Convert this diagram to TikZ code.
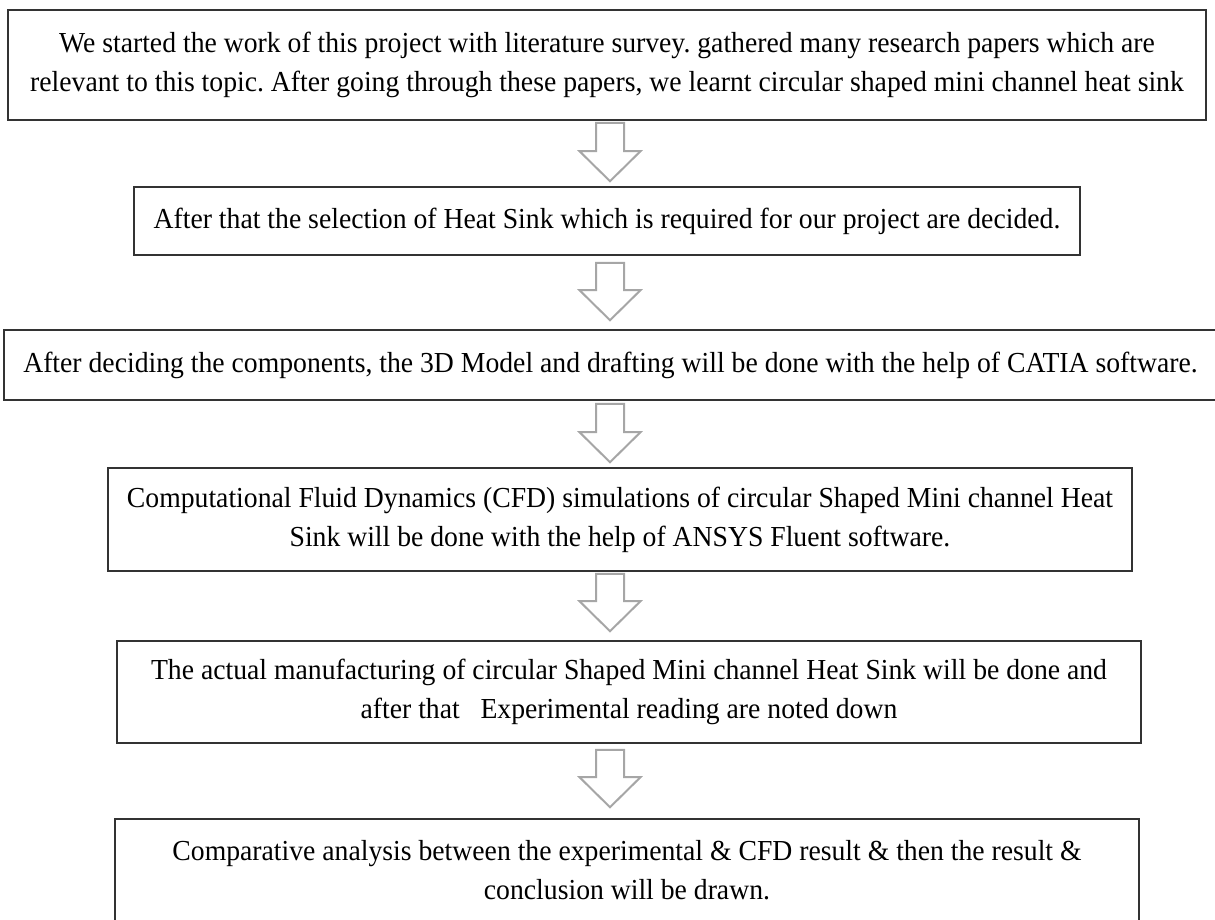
\documentclass[tikz,border=0pt]{standalone}
\usepackage{fontspec}
\setmainfont[FakeStretch=0.955]{Liberation Serif}
\usetikzlibrary{calc}
\frenchspacing
\tikzset{
  stepbox/.style={draw=black!80, line width=1.6pt, rectangle, align=center, inner sep=0pt,
    font=\fontsize{29}{39}\selectfont\frenchspacing},
  barrow/.style={draw=black!35, line width=2pt, fill=white, line join=miter}
}
\newcommand{\flowarrow}[4]{%
  \draw[barrow] let \p1=($(#1.south -| ax)+(0,#3)$), \p2=($(#2.north -| ax)+(0,-#4)$) in
    (\x1-14pt,\y1) -- (\x1+14pt,\y1) -- (\x1+14pt,\y2+30pt) -- (\x1+30.5pt,\y2+30pt)
    -- (\x1,\y2) -- (\x1-30.5pt,\y2+30pt) -- (\x1-14pt,\y2+30pt) -- cycle;}
\begin{document}
\begin{tikzpicture}[x=1pt,y=-1pt]
\useasboundingbox (0,0) rectangle (1215,919);
\coordinate (ax) at (610,0);
\node[stepbox, minimum width=1198pt, minimum height=110pt] (b1) at (607,65)
  {We started the work of this project with literature survey. gathered many research papers which are\\
   relevant to this topic. After going through these papers, we learnt circular shaped mini channel heat sink};
\node[stepbox, minimum width=946pt, minimum height=68pt] (b2) at (607,221)
  {After that the selection of Heat Sink which is required for our project are decided.};
\node[stepbox, minimum width=1213pt, minimum height=70pt] (b3) at (610.5,365)
  {After deciding the components, the 3D Model and drafting will be done with the help of CATIA software.};
\node[stepbox, minimum width=1024pt, minimum height=103pt] (b4) at (620,519.5)
  {Computational Fluid Dynamics (CFD) simulations of circular Shaped Mini channel Heat\\
   Sink will be done with the help of ANSYS Fluent software.};
\node[stepbox, minimum width=1024pt, minimum height=102pt] (b5) at (629,692)
  {The actual manufacturing of circular Shaped Mini channel Heat Sink will be done and\\
   after that\ \ \ Experimental reading are noted down};
\node[stepbox, minimum width=1024pt, minimum height=103pt] (b6) at (627,870.5)
  {Comparative analysis between the experimental \& CFD result \& then the result \&\\
   conclusion will be drawn.};
\flowarrow{b1}{b2}{2}{5}
\flowarrow{b2}{b3}{7}{9}
\flowarrow{b3}{b4}{3}{5}
\flowarrow{b4}{b5}{2}{9}
\flowarrow{b5}{b6}{6}{11}
\end{tikzpicture}
\end{document}
